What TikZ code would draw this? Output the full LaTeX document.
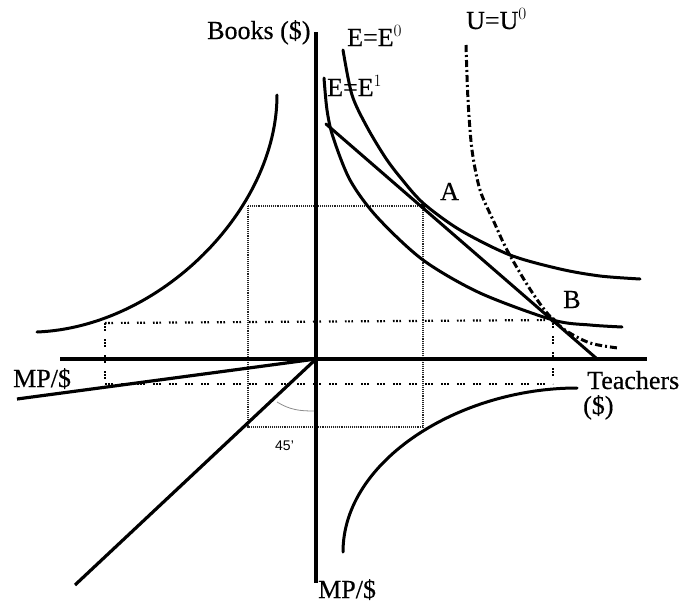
\documentclass[tikz,border=0pt]{standalone}
\usepackage{fontspec}
\setmainfont[FakeBold=0.4]{Liberation Serif}
\setsansfont{Liberation Sans}
\begin{document}
\begin{tikzpicture}[x=1pt,y=-1pt,
  axis/.style={line width=3.2pt},
  curve/.style={line width=3pt, line cap=round},
  dense/.style={line width=2.2pt, dash pattern=on 1pt off 0.9pt, black!85},
  sparse/.style={line width=2.2pt, dash pattern=on 1.6pt off 1.6pt on 1.6pt off 1.6pt on 1.6pt off 8pt},
  lab/.style={font=\fontsize{26}{28}\selectfont, inner sep=0pt, anchor=base west},
  udash/.style={line width=3pt, dash pattern=on 7pt off 3pt on 2pt off 3pt}]
\useasboundingbox (0,0) rectangle (680,608);
\fill[white] (0,0) rectangle (680,608);
% key coordinates
\coordinate (O) at (316,359);
\coordinate (A) at (423,206);
\coordinate (B) at (553,320);
\coordinate (L) at (248,206);
\coordinate (LB) at (248,427);
\coordinate (RB) at (423,427);
\coordinate (ytop) at (316,32);
\coordinate (ybot) at (316,583);
\coordinate (xl) at (60,359);
\coordinate (xr) at (647,359);
\coordinate (mpl) at (17,399);
\coordinate (fl) at (75,585);
\coordinate (bl) at (326,124);
\coordinate (br) at (596,358);
\coordinate (s1l) at (105,323);
\coordinate (s2l) at (105,384);
\coordinate (s2r) at (553,384);
% dense dotted rectangle
\draw[dense] (L) -- (A);
\draw[dense] (L) -- (LB) -- (RB) -- (A);
% sparse dotted lines
\draw[sparse] (s1l) -- (B);
\draw[sparse] (s2l) -- (s2r);
\draw[sparse] (s1l) -- (s2l);
\draw[sparse] (B) -- (s2r);
% axes
\draw[axis] (ytop) -- (ybot);
\draw[axis] (xl) -- (xr);
\draw[axis] (O) -- (mpl);
\draw[axis] (O) -- (fl);
% 45 arc
\draw[black!45, line width=0.8pt] (277,402) .. controls (290,410) and (300,411) .. (314,411);
% budget line
\draw[curve] (bl) -- (br);
% top-left curve
\draw[curve] (277,95) .. controls (277,210) and (160,327) .. (37,332);
% E0
\draw[curve] plot[smooth] coordinates {(343,50) (352,95) (367,127) (385,157) (400,177) (423,203) (460,230) (510,255) (560,269) (600,276) (640,279)};
% E1
\draw[curve] plot[smooth] coordinates {(324,78) (327,110) (333,137) (350,180) (377,217) (423,260) (480,293) (553,320) (590,325) (622,327)};
% U0
\draw[udash] plot[smooth] coordinates {(466,45) (468,100) (472,150) (480,190) (494,222) (507,250) (528,286) (547,313) (565,330) (590,343) (618,348)};
% bottom-right curve
\draw[curve] (343,552) .. controls (343,460) and (460,388) .. (577,388);
% points
\fill (A) circle (2.8pt);
\fill (B) circle (2.8pt);
% labels
\node[lab] (books) at (207,39) {Books (\$)};
\node[lab] (e0) at (347,46) {E=E$^{0}$};
\node[lab] (e1) at (327,96) {E=E$^{1}$};
\node[lab] (u0) at (466,29) {U=U$^{0}$};
\node[lab] (la) at (440,200) {A};
\node[lab] (lb) at (563,308) {B};
\node[lab] (teach) at (587,389) {Teachers};
\node[lab] (teach2) at (583,414) {(\$)};
\node[lab] (mpleft) at (13,387) {MP/\$};
\node[lab] (mpbot) at (318,598) {MP/\$};
\node[inner sep=0pt, anchor=base west, font=\sffamily\fontsize{14}{15}\selectfont] (deg) at (275,450) {45'};
\end{tikzpicture}
\end{document}
